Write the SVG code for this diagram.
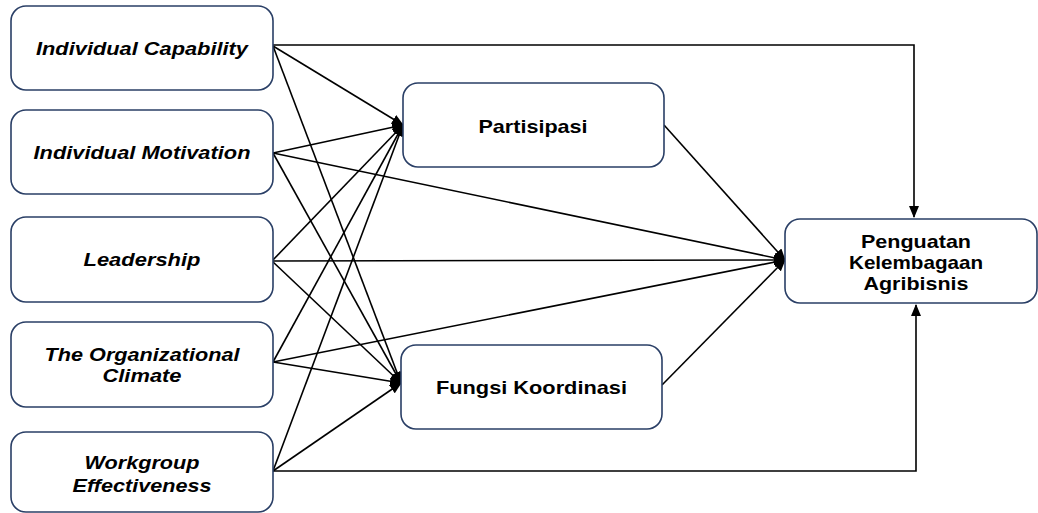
<svg xmlns="http://www.w3.org/2000/svg" width="1038" height="513" viewBox="0 0 1038 513">
<style>
.box{fill:#fff;stroke:#2a3f66;stroke-width:1.6}
.lbl{font-family:"Liberation Sans",Arial,sans-serif;font-weight:bold;font-size:18.5px;fill:#000;text-anchor:middle}
.it{font-style:italic}
.c{fill:none;stroke:#000;stroke-width:1.6}
</style>
<defs>
<marker id="ah" markerUnits="userSpaceOnUse" markerWidth="12" markerHeight="10" viewBox="0 0 12 10" refX="11" refY="5" orient="auto">
<path d="M0,0 L12,5 L0,10 Z" fill="#000"/>
</marker>
</defs>
<g id="connectors">
<polyline class="c" points="273,45 914,45 914,217" marker-end="url(#ah)"/>
<polyline class="c" points="273,471 916,471 916,305" marker-end="url(#ah)"/>
<line class="c" x1="273" y1="46" x2="403" y2="125" marker-end="url(#ah)"/>
<line class="c" x1="273" y1="46" x2="401" y2="383" marker-end="url(#ah)"/>
<line class="c" x1="273" y1="153" x2="403" y2="125" marker-end="url(#ah)"/>
<line class="c" x1="273" y1="153" x2="401" y2="383" marker-end="url(#ah)"/>
<line class="c" x1="273" y1="153" x2="785" y2="260" marker-end="url(#ah)"/>
<line class="c" x1="272" y1="261" x2="403" y2="125" marker-end="url(#ah)"/>
<line class="c" x1="272" y1="261" x2="401" y2="383" marker-end="url(#ah)"/>
<line class="c" x1="272" y1="261" x2="785" y2="260" marker-end="url(#ah)"/>
<line class="c" x1="273" y1="362" x2="403" y2="125" marker-end="url(#ah)"/>
<line class="c" x1="273" y1="362" x2="401" y2="383" marker-end="url(#ah)"/>
<line class="c" x1="273" y1="362" x2="785" y2="260" marker-end="url(#ah)"/>
<line class="c" x1="273" y1="471" x2="403" y2="125" marker-end="url(#ah)"/>
<line class="c" x1="273" y1="471" x2="401" y2="383" marker-end="url(#ah)"/>
<line class="c" x1="664" y1="125" x2="785" y2="260" marker-end="url(#ah)"/>
<line class="c" x1="662" y1="385" x2="785" y2="260" marker-end="url(#ah)"/>
</g>
<g id="n-capability">
<rect class="box" x="11" y="6" width="262" height="84" rx="15"/>
<text class="lbl it" x="142" y="55" textLength="212" lengthAdjust="spacingAndGlyphs">Individual Capability</text>
</g>
<g id="n-motivation">
<rect class="box" x="11" y="110" width="262" height="84" rx="15"/>
<text class="lbl it" x="142" y="159" textLength="217" lengthAdjust="spacingAndGlyphs">Individual Motivation</text>
</g>
<g id="n-leadership">
<rect class="box" x="11" y="217" width="262" height="85" rx="15"/>
<text class="lbl it" x="142" y="266" textLength="117" lengthAdjust="spacingAndGlyphs">Leadership</text>
</g>
<g id="n-climate">
<rect class="box" x="11" y="322" width="262" height="85" rx="15"/>
<text class="lbl it" x="142" y="361" textLength="195" lengthAdjust="spacingAndGlyphs">The Organizational</text>
<text class="lbl it" x="142" y="382" textLength="79" lengthAdjust="spacingAndGlyphs">Climate</text>
</g>
<g id="n-workgroup">
<rect class="box" x="11" y="432" width="262" height="80" rx="15"/>
<text class="lbl it" x="142" y="469" textLength="115" lengthAdjust="spacingAndGlyphs">Workgroup</text>
<text class="lbl it" x="142" y="492" textLength="139" lengthAdjust="spacingAndGlyphs">Effectiveness</text>
</g>
<g id="n-partisipasi">
<rect class="box" x="403" y="83" width="261" height="84" rx="15"/>
<text class="lbl" x="533" y="132.5" textLength="109" lengthAdjust="spacingAndGlyphs">Partisipasi</text>
</g>
<g id="n-fungsi">
<rect class="box" x="401" y="345" width="261" height="84" rx="15"/>
<text class="lbl" x="531.5" y="394" textLength="191" lengthAdjust="spacingAndGlyphs">Fungsi Koordinasi</text>
</g>
<g id="n-penguatan">
<rect class="box" x="785" y="219" width="252" height="84" rx="15"/>
<text class="lbl" x="916" y="247.5" textLength="110" lengthAdjust="spacingAndGlyphs">Penguatan</text>
<text class="lbl" x="916" y="269" textLength="134" lengthAdjust="spacingAndGlyphs">Kelembagaan</text>
<text class="lbl" x="916" y="290" textLength="105" lengthAdjust="spacingAndGlyphs">Agribisnis</text>
</g>
</svg>
